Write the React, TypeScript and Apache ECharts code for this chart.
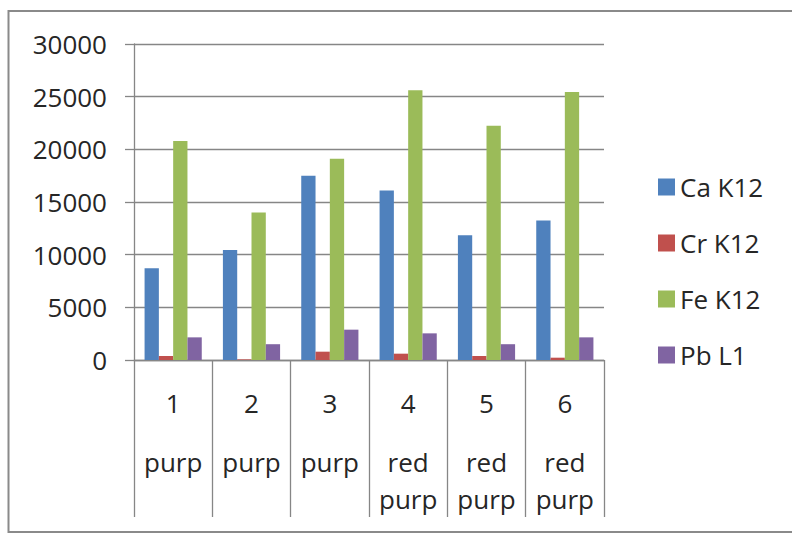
import React, { useEffect, useRef } from "react";
import * as echarts from "echarts";

const categories = ["1", "2", "3", "4", "5", "6"];
const subLabels = ["purp", "purp", "purp", "red\npurp", "red\npurp", "red\npurp"];
const seriesNames = ["Ca K12", "Cr K12", "Fe K12", "Pb L1"];
const caK12 = [8700, 10450, 17500, 16100, 11850, 13250];
const crK12 = [380, 60, 790, 600, 380, 220];
const feK12 = [20800, 14000, 19100, 25600, 22250, 25450];
const pbL1 = [2150, 1500, 2880, 2530, 1500, 2150];
const yTicks = [0, 5000, 10000, 15000, 20000, 25000, 30000];

const colors = ["#4F81BD", "#C0504D", "#9BBB59", "#8064A2"];
const FONT = "Open Sans";

export default function App() {
  const ref = useRef<HTMLDivElement>(null);
  useEffect(() => {
    if (!ref.current) return;
    const chart = echarts.init(ref.current, null, { renderer: "svg" });
    const values = [caK12, crK12, feK12, pbL1];
    const labelMap: Record<string, string> = {};
    categories.forEach((c, i) => (labelMap[c] = subLabels[i]));
    chart.setOption({
      animation: false,
      backgroundColor: "#ffffff",
      color: colors,
      textStyle: { fontFamily: FONT },
      grid: { left: 134, right: 188, top: 44, bottom: 174 },
      legend: {
        orient: "vertical",
        left: 653,
        top: 169,
        itemWidth: 17,
        itemHeight: 17,
        itemGap: 30,
        icon: "rect",
        data: seriesNames,
        textStyle: { fontFamily: FONT, fontSize: 26, color: "#262626" },
      },
      xAxis: {
        type: "category",
        data: categories,
        boundaryGap: true,
        axisLine: { show: true, lineStyle: { color: "#868686", width: 1.3 } },
        axisTick: { show: true, interval: 0, length: 157, lineStyle: { color: "#868686", width: 1.3 } },
        axisLabel: {
          interval: 0,
          margin: 2,
          formatter: (v: string) => {
            const words = labelMap[v].split("\n").map((w) => `{w|${w}}`).join("\n");
            return `{n|${v}}\n${words}`;
          },
          rich: {
            n: { fontFamily: FONT, fontSize: 26, lineHeight: 81, color: "#262626" },
            w: { fontFamily: FONT, fontSize: 26, lineHeight: 37, color: "#262626" },
          },
        },
      },
      yAxis: {
        type: "value",
        min: yTicks[0],
        max: yTicks[yTicks.length - 1],
        interval: yTicks[1] - yTicks[0],
        axisLine: { show: true, lineStyle: { color: "#868686", width: 1.3 } },
        axisTick: { show: true, length: 9, lineStyle: { color: "#868686", width: 1.3 } },
        axisLabel: {
          margin: 27,
          fontFamily: FONT,
          fontSize: 26,
          color: "#262626",
          formatter: (v: number) => String(v),
        },
        splitLine: { show: true, lineStyle: { color: "#868686", width: 1.3 } },
      },
      series: seriesNames.map((name, i) => ({
        name,
        type: "bar",
        data: values[i],
        barGap: "0%",
        barCategoryGap: "27%",
        itemStyle: { color: colors[i] },
      })),
      graphic: [
        {
          type: "rect",
          shape: { x: 8.5, y: 11, width: 800, height: 521 },
          style: { fill: "none", stroke: "#8a8a8a", lineWidth: 2 },
          silent: true,
        },
      ],
    });
    return () => chart.dispose();
  }, []);
  return (
    <div
      ref={ref}
      style={{ position: "fixed", left: 0, top: 0, width: 792, height: 534, background: "#fff" }}
    />
  );
}
